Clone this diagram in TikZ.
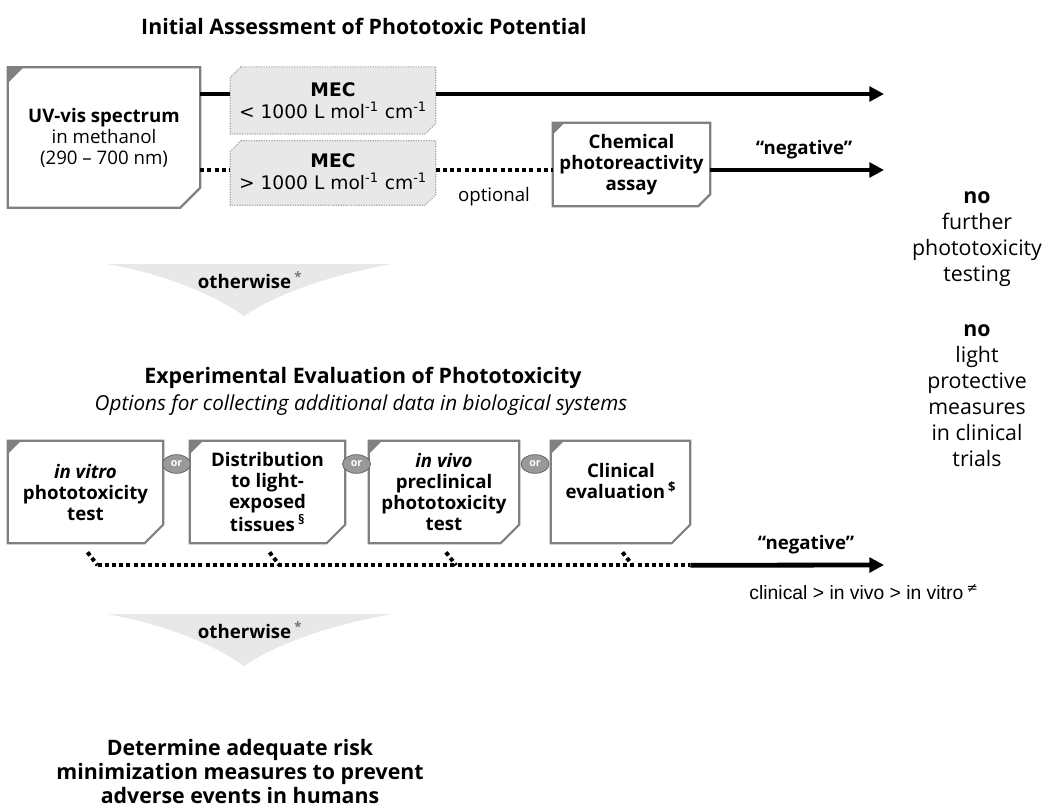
\documentclass[tikz,border=0pt]{standalone}
\usepackage{fontspec}
\setmainfont{Open Sans}
\newfontfamily\mecfont{DejaVu Sans}
\newfontfamily\smallfont{Liberation Sans}
\newfontfamily\symfont{DejaVu Sans}
\usetikzlibrary{arrows.meta,shapes.geometric}

\tikzset{
  txt/.style={align=center, inner sep=0pt, font=\fontsize{14}{15.75}\selectfont},
  ttl/.style={align=center, inner sep=0pt, font=\bfseries\fontsize{16}{18}\selectfont},
  side/.style={align=center, inner sep=0pt, font=\fontsize{16}{19.5}\selectfont},
  bx/.style={txt, minimum height=76.5pt},
  boxline/.style={draw=black!50, line width=1.7pt, line join=miter},
  cornerfill/.style={fill=black!50},
  mecline/.style={draw=black!35, fill=black!9, line width=0.9pt, densely dotted},
  solidline/.style={line width=3.6pt},
  solidarrow/.style={line width=3.6pt, -{Triangle[length=11pt,width=11pt]}},
  dotline/.style={line width=3pt, dash pattern=on 3pt off 2.4pt},
  orknot/.style={ellipse, fill=black!40, draw=black!60, line width=0.6pt, inner sep=0.5pt,
    minimum width=21pt, minimum height=14pt, font=\bfseries\fontsize{8}{8}\selectfont, text=white},
  wedge/.style={fill=black!9},
}
\newcommand\tagbox[3]{%
  \draw[boxline] (#1.north west) -- (#1.north east) -- ([yshift=#3]#1.south east)
    -- ([xshift=-#3]#1.south east) -- (#1.south west) -- cycle;
  \fill[cornerfill] (#1.north west) -- ([xshift=#2]#1.north west) -- ([yshift=-#2]#1.north west) -- cycle;
}
\newcommand\mecbox[1]{%
  \draw[mecline] ([xshift=8pt]#1.north west) -- (#1.north east) -- ([yshift=8pt]#1.south east)
    -- ([xshift=-8pt]#1.south east) -- (#1.south west) -- ([yshift=-8pt]#1.north west) -- cycle;
}

\begin{document}
\begin{tikzpicture}[x=0.75pt,y=-0.75pt]
\useasboundingbox (0,0) rectangle (1049,809);

% titles
\node[ttl] (t1) at (364,26) {Initial Assessment of Phototoxic Potential};
\node[ttl] (t2) at (363,378) {Experimental Evaluation of Phototoxicity};
\node[txt, font=\itshape\fontsize{15.5}{17}\selectfont] (t2s) at (361,405) {Options for collecting additional data in biological systems};

% wedges
\fill[wedge] (107,264) -- (392,264) .. controls (335,274) and (280,292) .. (244,316)
  .. controls (210,292) and (162,274) .. (107,264) -- cycle;
\fill[wedge] (107,614) -- (392,614) .. controls (335,624) and (280,642) .. (244,666)
  .. controls (210,642) and (162,624) .. (107,614) -- cycle;

% top row
\node[txt, minimum width=144pt, minimum height=105pt] (uv) at (104,137.5)
  {\bfseries UV-vis spectrum\\in methanol\\(290 -- 700 nm)};
\node[txt, minimum width=153.75pt, minimum height=50pt] (mec1) at (333,100.5) {};
\node[txt, minimum width=153.75pt, minimum height=48pt] (mec2) at (333,173) {};
\node[txt, minimum width=117.75pt, minimum height=62.25pt] (chem) at (631.5,164.5)
  {\bfseries Chemical\\\bfseries photoreactivity\\\bfseries assay};
\tagbox{uv}{12pt}{15pt}
\mecbox{mec1}
\mecbox{mec2}
\tagbox{chem}{9pt}{9pt}
\node[txt, font=\mecfont\fontsize{14}{16.5}\selectfont] (mec1t) at (333,101)
  {\bfseries MEC\\\mdseries < 1000 L mol\textsuperscript{-1} cm\textsuperscript{-1}};
\node[txt, font=\mecfont\fontsize{14}{16.5}\selectfont] (mec2t) at (333,172)
  {\bfseries MEC\\\mdseries > 1000 L mol\textsuperscript{-1} cm\textsuperscript{-1}};

\coordinate (r1) at (884,94);
\coordinate (r2) at (884,170);
\draw[solidline] (uv.east |- r1) -- (mec1.west |- r1);
\draw[solidarrow] (mec1.east |- r1) -- (r1);
\draw[dotline] (uv.east |- r2) -- (mec2.west |- r2);
\draw[dotline] (mec2.east |- r2) -- (chem.west |- r2);
\draw[solidarrow] (chem.east |- r2) -- (r2);
\node[txt] (opt) at (494,197) {optional};
\node[txt] (neg1) at (804,150) {\bfseries “negative”};

% otherwise
\node[txt] (ow1) at (250,280) {\bfseries otherwise\,\textsuperscript{\color{black!55}*}};
\node[txt] (ow2) at (250,630) {\bfseries otherwise\,\textsuperscript{\color{black!55}*}};

% right column
\node[side] (nf) at (977,239)
  {\bfseries no\\further\\phototoxicity\\testing};
\node[side] (nl) at (977,396)
  {\bfseries no\\light\\protective\\measures\\in clinical\\trials};

% bottom row
\node[bx, minimum width=116.25pt] (A) at (85.5,492) {\bfseries\itshape in vitro\\\bfseries phototoxicity\\\bfseries test};
\node[bx, minimum width=116.25pt] (B) at (267.5,492) {\bfseries Distribution\\\bfseries to light-\\\bfseries exposed\\\bfseries tissues\,\textsuperscript{§}};
\node[bx, minimum width=112.5pt] (C) at (444,492) {\bfseries\itshape in vivo\\\bfseries preclinical\\\bfseries phototoxicity\\\bfseries test};
\node[bx, minimum width=104.25pt] (D) at (620.5,492) {};
\node[txt] (Dt) at (621,481) {\bfseries Clinical\\\bfseries evaluation\,\textsuperscript{\$}};
\tagbox{A}{10pt}{14pt}
\tagbox{B}{10pt}{14pt}
\tagbox{C}{10pt}{14pt}
\tagbox{D}{10pt}{14pt}
\node[orknot] (o1) at (176.5,464) {or};
\node[orknot] (o2) at (356.5,464) {or};
\node[orknot] (o3) at (535,464) {or};

\coordinate (jA) at ([shift={(12,22)}]A.south);
\coordinate (jB) at ([shift={(12,22)}]B.south);
\coordinate (jC) at ([shift={(12,22)}]C.south);
\coordinate (jD) at ([shift={(12,22)}]D.south);
\coordinate (jE) at ([shift={(0,22)}]D.south east);
\coordinate (r3) at (884,565);
\draw[dotline] ([shift={(2,9)}]A.south) -- (jA);
\draw[dotline] ([shift={(2,9)}]B.south) -- (jB);
\draw[dotline] ([shift={(2,9)}]C.south) -- (jC);
\draw[dotline] ([shift={(2,9)}]D.south) -- (jD);
\draw[dotline] (jA) -- (jE);
\draw[solidarrow] (jE) -- (r3);
\node[txt] (neg2) at (806,545) {\bfseries “negative”};
\node[txt, font=\smallfont\fontsize{14.5}{16}\selectfont] (ord) at (864,592)
  {clinical > in vivo > in vitro\,\textsuperscript{\symfont ≠}};

% final
\node[txt, font=\bfseries\fontsize{16}{18}\selectfont] (fin) at (240,771)
  {Determine adequate risk\\minimization measures to prevent\\adverse events in humans};
\end{tikzpicture}
\end{document}
